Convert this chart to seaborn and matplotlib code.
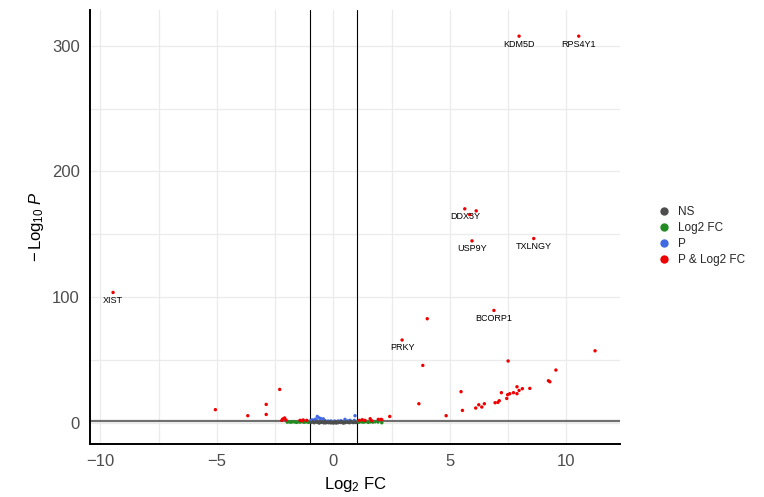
import matplotlib
matplotlib.use("Agg")
import matplotlib.pyplot as plt
from matplotlib.lines import Line2D
from matplotlib.ticker import MultipleLocator
import seaborn as sns
import pandas as pd

# ---------------- data ----------------
ns_x = [-0.95, -0.88, -0.82, -0.75, -0.70, -0.64, -0.58, -0.52, -0.47, -0.41, -0.36, -0.30,
        -0.25, -0.20, -0.15, -0.10, -0.05, 0.00, 0.04, 0.09, 0.14, 0.19, 0.24, 0.30, 0.35,
        0.41, 0.46, 0.52, 0.58, 0.63, 0.69, 0.74, 0.80, 0.86, 0.92, 0.97, -0.60, -0.33, 0.12, 0.45]
ns_y = [0.4, 0.9, 0.2, 1.1, 0.6, 0.3, 1.0, 0.5, 0.8, 0.1, 1.2, 0.4,
        0.7, 0.2, 0.9, 0.05, 0.5, 0.0, 0.3, 1.1, 0.6, 0.2, 0.8, 0.4, 1.0,
        0.1, 0.7, 0.3, 0.9, 0.5, 0.2, 1.2, 0.6, 0.3, 0.8, 0.4, 0.0, 0.15, 0.0, 0.05]

fc_x = [-1.98, -1.90, -1.82, -1.74, -1.66, -1.58, -1.50, -1.42, -1.35, -1.27, -1.20, -1.13, -1.06,
        1.04, 1.10, 1.18, 1.26, 1.33, 1.41, 1.50, 1.60, 1.70, 1.80, 1.92, 2.08]
fc_y = [0.7, 0.9, 0.6, 1.0, 0.8, 0.5, 0.9, 0.7, 1.1, 0.6, 0.8, 1.0, 0.5,
        0.9, 0.6, 1.0, 0.7, 0.8, 1.1, 0.5, 0.9, 0.7, 1.0, 0.8, 0.2]

p_x = [-0.97, -0.90, -0.85, -0.78, -0.72, -0.69, -0.62, -0.55, -0.48, -0.43, -0.35, -0.22,
       -0.10, 0.05, 0.21, 0.33, 0.50, 0.62, 0.72, 0.90, 0.93]
p_y = [2.0, 2.5, 1.6, 3.0, 2.2, 5.2, 4.1, 3.6, 2.6, 3.3, 1.8, 1.5,
       1.6, 1.5, 1.6, 1.8, 2.9, 1.7, 2.1, 2.1, 5.8]

sig_genes = ["KDM5D", "RPS4Y1", "DDX3Y", "USP9Y", "TXLNGY", "BCORP1", "XIST", "PRKY"]
sig_x = [7.97, 10.53, 5.64, 5.95, 8.60, 6.89, -9.45, 2.95]
sig_y = [307.6, 307.6, 170.3, 144.8, 146.7, 89.5, 103.8, 66.0]

both_x = [6.13, 5.85, 4.03, 3.84, 11.23, 7.50, 9.55, 9.23, 9.29, 8.43, 8.11, 7.88, 7.97, 7.88,
          7.73, 7.57, 7.48, 7.44, 7.21, 7.12, 7.06, 6.94, 6.48, 6.37, 6.24, 6.11, 5.54, 5.48,
          4.84, 3.67, 2.42, -5.06, -3.67, -2.88, -2.88, -2.30,
          -2.17, -2.09, -2.21, -2.03, -1.43, -1.29, -1.14, -1.34,
          1.12, 1.24, 1.36, 1.58, 1.65, 1.93, 2.05, 2.08]
both_y = [168.7, 165.7, 82.9, 45.8, 57.4, 49.3, 42.1, 33.6, 32.8, 27.5, 27.3, 28.8, 25.9, 23.3,
          24.1, 23.3, 22.5, 19.5, 24.1, 17.7, 16.4, 16.1, 15.3, 12.7, 14.5, 11.9, 10.0, 24.9,
          5.8, 15.3, 5.2, 10.6, 5.8, 14.8, 6.8, 26.7,
          3.2, 4.0, 2.1, 2.4, 2.1, 2.4, 2.1, 1.8,
          2.1, 2.6, 2.1, 3.4, 1.8, 2.9, 2.9, 2.6]

groups = ["NS", "Log2 FC", "P", "P & Log2 FC"]
colors = {"NS": "#4d4d4d", "Log2 FC": "#228B22", "P": "#4169E1", "P & Log2 FC": "#EE0000"}

df = pd.concat([
    pd.DataFrame({"x": p_x, "y": p_y, "g": "P"}),
    pd.DataFrame({"x": fc_x, "y": fc_y, "g": "Log2 FC"}),
    pd.DataFrame({"x": ns_x, "y": ns_y, "g": "NS"}),
    pd.DataFrame({"x": both_x, "y": both_y, "g": "P & Log2 FC"}),
    pd.DataFrame({"x": sig_x, "y": sig_y, "g": "P & Log2 FC"}),
], ignore_index=True)

# ---------------- plot ----------------
sns.set_theme(style="white")
plt.rcParams["font.family"] = ["Liberation Sans", "DejaVu Sans"]
plt.rcParams["mathtext.fontset"] = "custom"
plt.rcParams["mathtext.rm"] = "Liberation Sans"
plt.rcParams["mathtext.it"] = "Liberation Sans:italic"

fig = plt.figure(figsize=(7.64, 4.97), dpi=100)
ax = fig.add_axes([90 / 764, 1 - 444 / 497, 530 / 764, 434 / 497])

ax.set_xlim(-10.44, 12.3)
ax.set_ylim(-16.7, 328.4)
ax.xaxis.set_major_locator(MultipleLocator(5))
ax.xaxis.set_minor_locator(MultipleLocator(2.5))
ax.yaxis.set_major_locator(MultipleLocator(100))
ax.yaxis.set_minor_locator(MultipleLocator(50))
ax.grid(True, which="both", color="#ebebeb", lw=0.9)
ax.set_axisbelow(True)

ax.axvline(-1, color="black", lw=0.8, zorder=1)
ax.axvline(1, color="black", lw=0.8, zorder=1)
ax.axhline(1.30103, color="#707070", lw=1.6, zorder=2)

sns.scatterplot(data=df, x="x", y="y", hue="g", hue_order=groups, palette=colors,
                s=6, linewidth=0, ax=ax, legend=False, zorder=3)

for name, gx, gy in zip(sig_genes, sig_x, sig_y):
    ax.annotate(name, (gx, gy), xytext=(0, -2.5), textcoords="offset points",
                ha="center", va="top", fontsize=6.5, color="black", zorder=4)

for side in ["top", "right"]:
    ax.spines[side].set_visible(False)
for side in ["left", "bottom"]:
    ax.spines[side].set_color("black")
    ax.spines[side].set_linewidth(1.4)
ax.tick_params(which="major", direction="out", length=4.5, width=1.4, color="black",
               labelsize=12, labelcolor="#4d4d4d", pad=3)
ax.tick_params(which="minor", length=0)

ax.set_xlabel(r"$\mathrm{Log}_{2}\ \mathrm{FC}$", fontsize=12, color="black", labelpad=4)
ax.set_ylabel(r"$-\,\mathrm{Log}_{10}\ \mathit{P}$", fontsize=12, color="black", labelpad=4)

handles = [Line2D([0], [0], marker="o", ls="", color=colors[g], markersize=5) for g in groups]
fig.legend(handles, groups, loc="upper left", bbox_to_anchor=(652 / 764, 1 - 201 / 497),
           frameon=False, fontsize=8.5, handletextpad=0.6, labelspacing=0.35,
           handlelength=1.2, borderaxespad=0)

fig.savefig("out.png", dpi=100)
